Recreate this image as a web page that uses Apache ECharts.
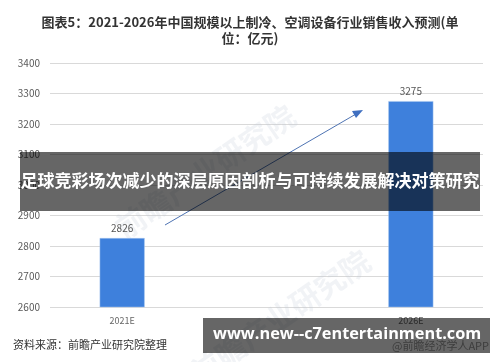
<!DOCTYPE html>
<html>
<head>
<meta charset="utf-8">
<script src="https://cdn.jsdelivr.net/npm/echarts@6/dist/echarts.min.js"></script>
<style>html,body{margin:0;padding:0;background:#fff;}#c{width:500px;height:362px;}</style>
</head>
<body>
<div id="c"></div>
<script>
var categories = ['2021E', '', '2026E'];
var revenue = [2826, null, 3275];
var yTicks = [2600, 2700, 2800, 2900, 3000, 3100, 3200, 3300, 3400];

var chart = echarts.init(document.getElementById('c'), null, {renderer: 'canvas'});
var font = '"Microsoft YaHei","Noto Sans CJK SC",sans-serif';
chart.setOption({
  backgroundColor: '#fff',
  animation: false,
  title: {
    text: '图表5：2021-2026年中国规模以上制冷、空调设备行业销售收入预测(单\n位：亿元)',
    left: 'center', top: 9,
    textStyle: {fontSize: 13, fontWeight: 'bold', color: '#333', fontFamily: font, lineHeight: 16}
  },
  grid: {left: 50, right: 17, top: 63, bottom: 55},
  xAxis: {
    type: 'category', data: categories,
    axisLine: {show: false}, axisTick: {show: false},
    axisLabel: {color: '#666', fontSize: 9, margin: 9, fontFamily: font}
  },
  yAxis: {
    type: 'value', min: yTicks[0], max: yTicks[yTicks.length - 1], interval: 100,
    axisLine: {show: false}, axisTick: {show: false},
    axisLabel: {color: '#595959', fontSize: 10, margin: 10, fontFamily: font,
      formatter: function (v) { return String(v); }},
    splitLine: {lineStyle: {color: '#d9d9d9', width: 1}}
  },
  series: [{
    type: 'bar', data: revenue, barWidth: 45,
    itemStyle: {color: '#3e80dc', borderColor: '#a9c6ee', borderWidth: 0.5},
    label: {show: true, position: 'top', distance: 5, color: '#555', fontSize: 10, fontFamily: font}
  }],
  graphic: [
    {type: 'text', left: 110, top: 100, rotation: 0.6, z: 1,
      style: {text: '前瞻产业研究院', fill: 'rgba(190,200,215,0.22)', font: 'bold 30px ' + font}},
    {type: 'text', left: 185, top: 245, rotation: 0.6, z: 1,
      style: {text: '前瞻产业研究院', fill: 'rgba(190,200,215,0.22)', font: 'bold 30px ' + font}},
    {type: 'line', z: 5, shape: {x1: 165, y1: 225, x2: 356, y2: 114},
      style: {stroke: '#4f74b3', lineWidth: 1}},
    {type: 'polygon', z: 5, shape: {points: [[363, 110], [352, 111], [356, 118]]},
      style: {fill: '#3f6fc0'}},
    {type: 'text', left: 392, top: 340, z: 6,
      style: {text: '@前瞻经济学人APP', fill: '#999', font: '11px ' + font}},
    {type: 'text', left: 13, top: 339, z: 6,
      style: {text: '资料来源：前瞻产业研究院整理', fill: '#333', font: '11px ' + font}},
    {type: 'rect', z: 20, shape: {x: 20, y: 152, width: 460, height: 59},
      style: {fill: 'rgba(0,0,0,0.6)'}},
    {type: 'text', z: 21, left: 'center', top: 172,
      style: {text: '足球竞彩场次减少的深层原因剖析与可持续发展解决对策研究', fill: '#fff', font: 'bold 17px ' + font}},
    {type: 'rect', z: 20, shape: {x: 203, y: 318, width: 287, height: 35},
      style: {fill: 'rgba(0,0,0,0.6)'}},
    {type: 'text', z: 21, left: 213, top: 326,
      style: {text: 'www.new--c7entertainment.com', fill: '#fff', font: 'bold 16.3px "Open Sans",sans-serif'}}
  ]
});
</script>
</body>
</html>
